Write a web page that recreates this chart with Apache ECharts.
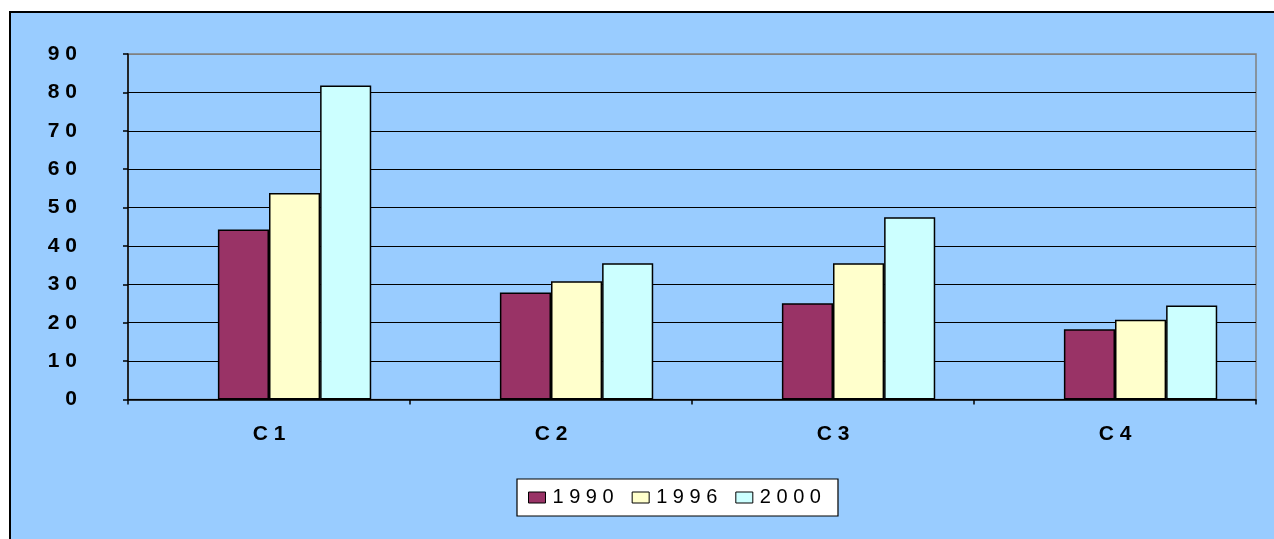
<!DOCTYPE html>
<html>
<head>
<meta charset="utf-8">
<script src="https://cdn.jsdelivr.net/npm/echarts@6/dist/echarts.min.js"></script>
<style>
  html, body { margin: 0; padding: 0; background: #fff; overflow: hidden; }
  #frame {
    position: absolute; left: 9px; top: 11px; width: 1300px; height: 600px;
    background: #99CCFF; border: 2px solid #000;
  }
  #chart { position: absolute; left: 0; top: 0; width: 1274px; height: 539px; }
</style>
</head>
<body>
<div id="frame"></div>
<div id="chart"></div>
<script>
// chart data
const categories = ["C1", "C2", "C3", "C4"];
const years = ["1990", "1996", "2000"];
const values1990 = [44.3, 27.9, 25.1, 18.3];
const values1996 = [53.8, 30.8, 35.5, 20.8];
const values2000 = [81.8, 35.5, 47.5, 24.5];
const yTicks = [0, 10, 20, 30, 40, 50, 60, 70, 80, 90];

const colors = ["#993366", "#FFFFCC", "#CCFFFF"];

// spread characters apart like the original
function spaced(s) {
    return String(s).split("").join(" ");
}

var myChart = echarts.init(document.getElementById('chart'));

// grid lines black, top one grey (frame)
let splitColors = yTicks.map(function (t, i) {
    return i == yTicks.length - 1 ? "#808080" : "#000";
});

let barSeries = [{
    // empty slot: the original leaves a gap before the first bar
    name: "",
    type: "bar",
    data: categories.map(function () { return null; }),
    barGap: "0%",
    barCategoryGap: "27.5%"
}];
let allValues = [values1990, values1996, values2000];
for (let i = 0; i < years.length; i++) {
    barSeries.push({
        name: years[i],
        type: "bar",
        data: allValues[i],
        barGap: "0%",
        barCategoryGap: "27.5%",
        itemStyle: { color: colors[i], borderColor: "#000", borderWidth: 1.5 }
    });
}

var option = {
    animation: false,
    grid: {
        left: 128, right: 18, top: 54, bottom: 139.5,
        show: true, borderColor: "#808080", borderWidth: 1.5,
        backgroundColor: "transparent"
    },
    legend: {
        data: years,
        left: 517, top: 479,
        backgroundColor: "#fff",
        borderColor: "#000", borderWidth: 1.2,
        padding: [8, 17, 8, 11],
        itemWidth: 17, itemHeight: 11, itemGap: 18,
        icon: "rect",
        itemStyle: { borderColor: "#000", borderWidth: 1 },
        textStyle: {
            fontFamily: "Arial, 'Liberation Sans', sans-serif",
            fontSize: 20, color: "#000", lineHeight: 21, padding: [0, 0, 0, 2]
        },
        formatter: function (name) { return spaced(name); }
    },
    xAxis: {
        type: "category",
        data: categories,
        axisLine: { lineStyle: { color: "#000", width: 1.5 } },
        axisTick: { show: true, length: 5, inside: false, lineStyle: { color: "#000", width: 1.5 } },
        axisLabel: {
            margin: 24, color: "#000", fontWeight: "bold", fontSize: 21,
            fontFamily: "Arial, 'Liberation Sans', sans-serif",
            formatter: function (v) { return spaced(v); }
        }
    },
    yAxis: {
        type: "value",
        min: 0, max: 90, interval: 10,
        axisLine: { show: true, lineStyle: { color: "#000", width: 1.5 } },
        axisTick: { show: true, length: 5, lineStyle: { color: "#000", width: 1.5 } },
        splitLine: { show: true, lineStyle: { color: splitColors, width: 1.2 } },
        axisLabel: {
            margin: 51, color: "#000", fontWeight: "bold", fontSize: 21,
            fontFamily: "Arial, 'Liberation Sans', sans-serif",
            formatter: function (v) { return spaced(v); }
        }
    },
    series: barSeries
};

myChart.setOption(option);
</script>
</body>
</html>
